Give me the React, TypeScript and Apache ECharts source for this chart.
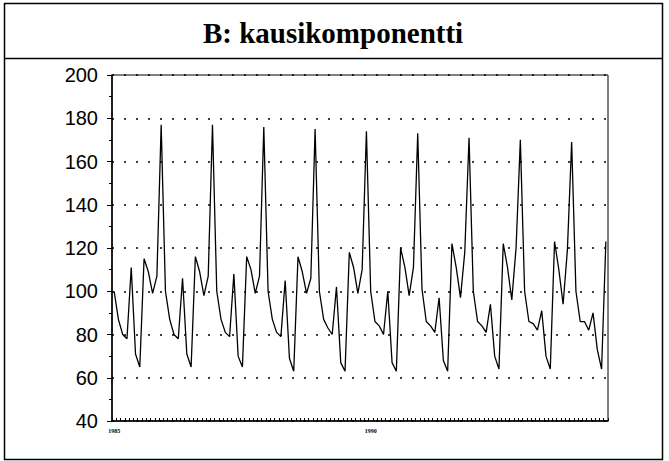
import React, { useEffect, useRef } from "react";
import * as echarts from "echarts";

const TITLE = "B: kausikomponentti";
const YEARS = ["1985", "1986", "1987", "1988", "1989", "1990", "1991", "1992", "1993", "1994"];
const MONTHS = ["01", "02", "03", "04", "05", "06", "07", "08", "09", "10", "11", "12"];
const YEAR_TICK_LABELS = ["1985", "1990"];

const s1985 = [100, 87, 80, 78, 111, 71, 65, 115, 109, 99, 107, 177];
const s1986 = [100, 87, 80, 78, 106, 71, 65, 116, 109, 98, 107, 177];
const s1987 = [100, 87, 81, 79, 108, 70, 65, 116, 110, 99, 107, 176];
const s1988 = [100, 87, 81, 79, 105, 69, 63, 116, 109, 99, 106, 175];
const s1989 = [100, 87, 83, 80, 102, 67, 63, 118, 111, 99, 110, 174];
const s1990 = [100, 86, 84, 80, 100, 67, 63, 120, 111, 98, 111, 173];
const s1991 = [101, 86, 84, 81, 97, 68, 63, 122, 111, 97, 118, 171];
const s1992 = [100, 86, 84, 81, 94, 70, 64, 122, 111, 96, 120, 170];
const s1993 = [100, 86, 85, 82, 91, 70, 64, 123, 110, 94, 119, 169];
const s1994 = [100, 86, 86, 82, 90, 73, 64, 123];

const SERIES_BY_YEAR = [s1985, s1986, s1987, s1988, s1989, s1990, s1991, s1992, s1993, s1994];

const Y_MIN = 40;
const Y_MAX = 200;
const Y_STEP = 20;

export default function App() {
  const ref = useRef<HTMLDivElement>(null);

  useEffect(() => {
    if (!ref.current) return;
    const chart = echarts.init(ref.current, undefined, { renderer: "svg" });

    const categories: string[] = [];
    const values: number[] = [];
    SERIES_BY_YEAR.forEach((arr, yi) => {
      arr.forEach((v, mi) => {
        categories.push(YEARS[yi] + "-" + MONTHS[mi]);
        values.push(v);
      });
    });

    chart.setOption({
      animation: false,
      backgroundColor: "#fff",
      grid: {
        left: 112,
        top: 75,
        width: 496,
        height: 346,
        show: true,
        borderColor: "#000",
        borderWidth: 1,
        backgroundColor: "transparent",
      },
      xAxis: {
        type: "category",
        data: categories,
        boundaryGap: true,
        axisLine: { show: true, lineStyle: { color: "#000", width: 1.5 } },
        axisTick: {
          show: true,
          interval: 0,
          inside: true,
          length: 3,
          lineStyle: { color: "#000", width: 1 },
        },
        axisLabel: {
          show: true,
          interval: (idx: number, val: string) => YEAR_TICK_LABELS.indexOf(val.slice(0, 4)) >= 0 && val.endsWith("-01"),
          formatter: (val: string) => val.slice(0, 4),
          fontSize: 6,
          fontWeight: "bold",
          fontFamily: "Liberation Serif",
          color: "#000",
          margin: 7,
        },
        splitLine: { show: false },
      },
      yAxis: {
        type: "value",
        min: Y_MIN,
        max: Y_MAX,
        interval: Y_STEP,
        axisLine: { show: true, lineStyle: { color: "#000", width: 1.5 } },
        axisTick: { show: true, length: 5, lineStyle: { color: "#000", width: 1 } },
        minorTick: { show: true, splitNumber: 2, length: 3, lineStyle: { color: "#000", width: 1 } },
        axisLabel: {
          fontSize: 20,
          fontFamily: "Liberation Sans",
          color: "#000",
          margin: 14,
        },
        splitLine: {
          show: true,
          lineStyle: { color: "#000", width: 1.5, type: [2, 10] },
        },
      },
      series: [
        {
          type: "line",
          data: values,
          symbol: "none",
          lineStyle: { color: "#000", width: 1.3 },
        },
      ],
      graphic: [
        {
          type: "rect",
          shape: { x: 4.5, y: 3.5, width: 658, height: 456 },
          style: { fill: "none", stroke: "#000", lineWidth: 1.5 },
          silent: true,
        },
        {
          type: "line",
          shape: { x1: 4.5, y1: 58.5, x2: 662.5, y2: 58.5 },
          style: { stroke: "#000", lineWidth: 1.5 },
          silent: true,
        },
        {
          type: "text",
          x: 333,
          y: 33,
          style: {
            text: TITLE,
            fontSize: 29,
            fontWeight: "bold",
            fontFamily: "Liberation Serif",
            fill: "#000",
            textAlign: "center",
            textVerticalAlign: "middle",
          },
          silent: true,
        },
      ],
    });

    return () => {
      chart.dispose();
    };
  }, []);

  return (
    <div
      ref={ref}
      style={{ position: "absolute", left: 0, top: 0, width: 669, height: 461 }}
    />
  );
}
